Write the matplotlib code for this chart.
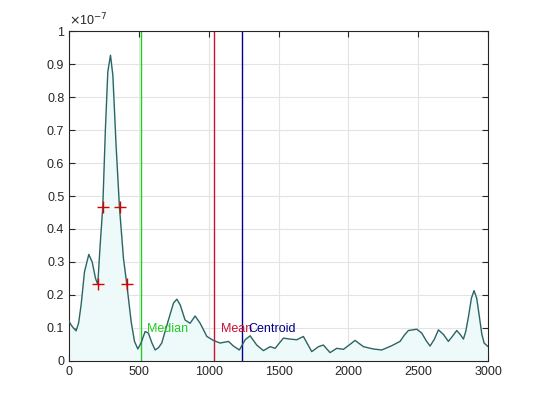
import matplotlib
matplotlib.use("Agg")
import matplotlib.pyplot as plt
import numpy as np

plt.rcParams['font.family'] = ['Liberation Sans', 'DejaVu Sans']

# spectrum (values in units of 1e-7)
freq = [0, 14, 30, 50, 68, 86, 110, 141, 165, 189, 205, 222, 241, 260, 277, 296, 313,
        336, 360, 389, 413, 444, 468, 492, 515, 544, 568, 592, 616, 640, 663, 711, 747,
        771, 795, 830, 866, 902, 938, 986, 1033, 1081, 1141, 1176, 1219, 1260, 1296,
        1343, 1391, 1439, 1475, 1534, 1582, 1630, 1677, 1737, 1785, 1820, 1868, 1916,
        1964, 2005, 2047, 2107, 2178, 2238, 2310, 2369, 2400, 2429, 2489, 2525, 2555,
        2584, 2614, 2644, 2680, 2715, 2745, 2775, 2800, 2823, 2840, 2859, 2880, 2899,
        2918, 2937, 2955, 2971, 3000]
power = [0.12, 0.109, 0.1, 0.091, 0.115, 0.17, 0.27, 0.323, 0.30, 0.25, 0.232, 0.35,
         0.468, 0.705, 0.877, 0.927, 0.867, 0.655, 0.468, 0.311, 0.232, 0.119, 0.059,
         0.036, 0.054, 0.089, 0.084, 0.055, 0.033, 0.04, 0.054, 0.124, 0.175, 0.187,
         0.170, 0.124, 0.114, 0.136, 0.114, 0.074, 0.062, 0.054, 0.059, 0.045, 0.033,
         0.064, 0.076, 0.048, 0.031, 0.043, 0.038, 0.069, 0.066, 0.064, 0.074, 0.028,
         0.043, 0.048, 0.025, 0.038, 0.035, 0.048, 0.062, 0.043, 0.036, 0.033, 0.046,
         0.059, 0.078, 0.092, 0.096, 0.084, 0.062, 0.045, 0.065, 0.094, 0.08, 0.059,
         0.075, 0.092, 0.08, 0.066, 0.09, 0.134, 0.19, 0.213, 0.19, 0.134, 0.08, 0.054,
         0.043]

# half-power markers
mark_f = [205, 241, 362, 413]
mark_p = [0.233, 0.468, 0.468, 0.233]

# statistics
stat_names = ['Median', 'Mean', 'Centroid']
stat_freq = [515, 1040, 1240]
stat_colors = ['#22cc22', '#cc1133', '#000088']
label_y = 0.097

fig = plt.figure(figsize=(5.4, 4.05), dpi=100)
ax = fig.add_axes([0.128, 0.109, 0.776, 0.814])

ax.fill_between(freq, power, 0, color='#eefafa', zorder=1)
ax.plot(freq, power, color='#2d6464', lw=1.0, zorder=3)
ax.plot(mark_f, mark_p, '+', color='#dd0000', ms=8, mew=1.0, zorder=4)

for name, f, c in zip(stat_names, stat_freq, stat_colors):
    ax.axvline(f, color=c, lw=1.0, zorder=2)
    ax.text(f + 45, label_y, name, color=c, fontsize=9, va='center', ha='left', zorder=5)

ax.set_xlim(0, 3000)
ax.set_ylim(0, 1)
ax.set_xticks(np.arange(0, 3001, 500))
ax.set_yticks(np.arange(0, 1.01, 0.1))
ax.set_yticklabels(['0', '0.1', '0.2', '0.3', '0.4', '0.5', '0.6', '0.7', '0.8', '0.9', '1'])
ax.grid(True, color='#e3e3e3', lw=0.8)
ax.set_axisbelow(True)
ax.tick_params(direction='in', top=True, right=True, labelsize=9, length=4, color='#262626',
               labelcolor='#262626')
for s in ax.spines.values():
    s.set_color('#262626')
    s.set_linewidth(0.8)

ax.text(0.0, 1.01, r'$\times$10$^{-7}$', transform=ax.transAxes, fontsize=9,
        color='#262626', ha='left', va='bottom')

fig.savefig('out.png', dpi=100)
